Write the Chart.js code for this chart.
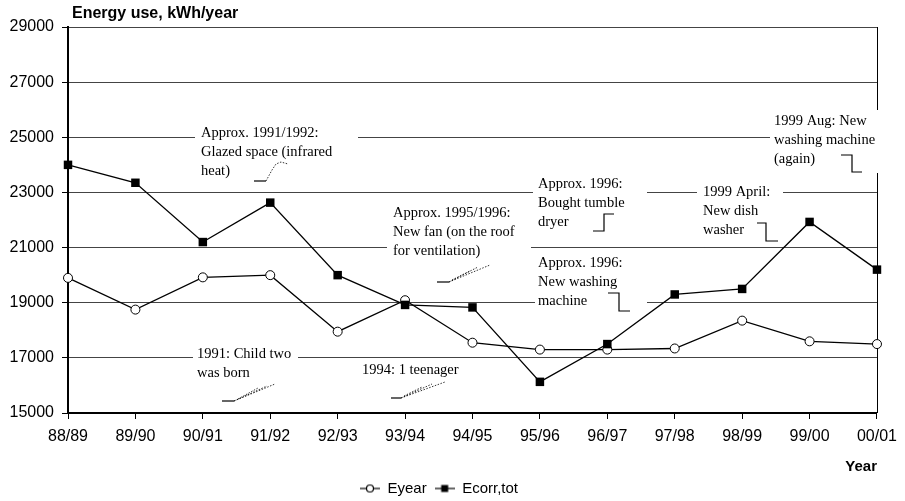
<!DOCTYPE html>
<html>
<head>
<meta charset="utf-8">
<script src="https://cdn.jsdelivr.net/npm/chart.js@4.4.1/dist/chart.umd.min.js"></script>
<style>
  html, body { margin: 0; padding: 0; background: #fff; }
</style>
</head>
<body>
<canvas id="energy-chart" width="905" height="501"></canvas>
<script>
var years = ['88/89', '89/90', '90/91', '91/92', '92/93', '93/94', '94/95', '95/96', '96/97', '97/98', '98/99', '99/00', '00/01'];
var eYear = [19900, 18750, 19920, 20000, 17950, 19090, 17550, 17300, 17300, 17340, 18350, 17600, 17500];
var eCorrTot = [24000, 23350, 21200, 22630, 20000, 18920, 18830, 16130, 17500, 19300, 19500, 21930, 20200];
var yMin = 15000;
var yMax = 29000;
var yStep = 2000;

// text notes drawn over the plot (pixel layout, not data)
var notes = [
  { lines: ['Approx. 1991/1992:', 'Glazed space (infrared', 'heat)'], x: 201, y: 133, box: [195, 124, 358, 184],
    solid: [[[254, 181], [266, 181]]], dotted: [[[266, 181], [272, 170], [276, 164], [281, 162], [288, 164]]] },
  { lines: ['1991: Child two', 'was born'], x: 197, y: 354, box: [193, 345, 298, 382],
    solid: [[[222, 401], [234, 401]]], dotted: [[[234, 401], [275, 384]], [[234, 401], [267, 386]], [[238, 399], [258, 388]]] },
  { lines: ['1994: 1 teenager'], x: 362, y: 370, box: [358, 362, 460, 379],
    solid: [[[391, 398], [401, 398]]], dotted: [[[401, 398], [445, 382]], [[401, 398], [432, 384]], [[404, 396], [422, 387]]] },
  { lines: ['Approx. 1995/1996:', 'New fan (on the roof', 'for ventilation)'], x: 393, y: 213, box: [387, 203, 531, 262],
    solid: [[[437, 282], [449, 282]]], dotted: [[[449, 282], [490, 265]], [[449, 282], [478, 267]], [[452, 280], [470, 271]]] },
  { lines: ['Approx. 1996:', 'Bought tumble', 'dryer'], x: 538, y: 184, box: [533, 175, 647, 230],
    solid: [[[593, 231], [604, 231], [604, 214], [614, 214]]], dotted: [] },
  { lines: ['Approx. 1996:', 'New washing', 'machine'], x: 538, y: 263, box: [535, 254, 647, 309],
    solid: [[[608, 293], [619, 293], [619, 311], [630, 311]]], dotted: [] },
  { lines: ['1999 April:', 'New dish', 'washer'], x: 703, y: 192, box: [697, 183, 783, 238],
    solid: [[[757, 223], [766, 223], [766, 241], [778, 241]]], dotted: [] },
  { lines: ['1999 Aug: New', 'washing machine', '(again)'], x: 774, y: 121, box: [770, 110, 892, 173],
    solid: [[[841, 155], [852, 155], [852, 172], [862, 172]]], dotted: [] }
];

function drawPath(ctx, pts) {
  ctx.beginPath();
  ctx.moveTo(pts[0][0], pts[0][1]);
  for (var i = 1; i < pts.length; i++) {
    ctx.lineTo(pts[i][0], pts[i][1]);
  }
  ctx.stroke();
}

function legendIcon(square) {
  var c = document.createElement('canvas');
  c.width = 20;
  c.height = 10;
  var g = c.getContext('2d');
  g.strokeStyle = '#000';
  g.lineWidth = 1.2;
  g.beginPath();
  g.moveTo(0, 5);
  g.lineTo(20, 5);
  g.stroke();
  if (square) {
    g.fillStyle = '#000';
    g.fillRect(6.5, 1.5, 7, 7);
  } else {
    g.fillStyle = '#fff';
    g.beginPath();
    g.arc(10, 5, 3.5, 0, Math.PI * 2);
    g.fill();
    g.stroke();
  }
  return c;
}

var notesPlugin = {
  id: 'notes',
  beforeDatasetsDraw: function(chart) {
    var ctx = chart.ctx;
    var area = chart.chartArea;
    ctx.save();
    ctx.strokeStyle = '#000';
    ctx.lineWidth = 1;
    ctx.beginPath();
    ctx.moveTo(Math.round(area.right) + 0.5, area.top);
    ctx.lineTo(Math.round(area.right) + 0.5, area.bottom);
    ctx.stroke();

    notes.forEach(function(n) {
      ctx.fillStyle = '#fff';
      ctx.fillRect(n.box[0], n.box[1], n.box[2] - n.box[0], n.box[3] - n.box[1]);
      ctx.fillStyle = '#000';
      ctx.font = '14.5px "Liberation Serif"';
      ctx.textBaseline = 'middle';
      ctx.textAlign = 'left';
      n.lines.forEach(function(t, i) {
        ctx.fillText(t, n.x, n.y + i * 19);
      });
      ctx.strokeStyle = '#000';
      ctx.lineWidth = 1.2;
      ctx.setLineDash([]);
      n.solid.forEach(function(p) { drawPath(ctx, p); });
      ctx.lineWidth = 0.8;
      ctx.setLineDash([1.5, 1.5]);
      n.dotted.forEach(function(p) { drawPath(ctx, p); });
      ctx.setLineDash([]);
    });
    ctx.restore();
  },
  afterDraw: function(chart) {
    var ctx = chart.ctx;
    ctx.save();
    ctx.fillStyle = '#000';
    ctx.font = 'bold 16px "Liberation Sans"';
    ctx.textBaseline = 'middle';
    ctx.textAlign = 'left';
    ctx.fillText('Energy use, kWh/year', chart.chartArea.left + 4, 14);
    ctx.restore();
  }
};

var elem = document.getElementById('energy-chart');

var energyChart = new Chart(elem, {
  type: 'line',
  data: {
    labels: years,
    datasets: [{
      label: 'Eyear',
      data: eYear,
      borderColor: '#000',
      borderWidth: 1.3,
      pointStyle: 'circle',
      pointRadius: 4.5,
      pointBackgroundColor: '#fff',
      pointBorderColor: '#000',
      pointBorderWidth: 1,
      tension: 0,
      clip: false,
      order: 2
    }, {
      label: 'Ecorr,tot',
      data: eCorrTot,
      borderColor: '#000',
      borderWidth: 1.3,
      pointStyle: 'rect',
      pointRadius: 6,
      pointBackgroundColor: '#000',
      pointBorderColor: '#000',
      pointBorderWidth: 0,
      tension: 0,
      clip: false,
      order: 1
    }]
  },
  options: {
    responsive: false,
    animation: false,
    layout: {
      padding: { left: 0, right: 27, top: 27, bottom: -5 }
    },
    plugins: {
      title: { display: false },
      tooltip: { enabled: false },
      legend: {
        position: 'bottom',
        labels: {
          usePointStyle: true,
          pointStyleWidth: 20,
          boxHeight: 10,
          padding: 8,
          color: '#000',
          font: { family: 'Liberation Sans', size: 15 },
          sort: function(a, b) { return a.datasetIndex - b.datasetIndex; },
          generateLabels: function(chart) {
            return chart.data.datasets.map(function(ds, i) {
              return {
                text: ds.label,
                pointStyle: legendIcon(i === 1),
                fillStyle: '#000',
                strokeStyle: '#000',
                lineWidth: 0,
                hidden: false,
                datasetIndex: i
              };
            });
          }
        }
      }
    },
    scales: {
      x: {
        offset: false,
        afterFit: function(scale) { scale.height = 60; },
        grid: {
          drawOnChartArea: false,
          drawTicks: true,
          tickLength: 6,
          tickColor: '#000'
        },
        border: { display: true, color: '#000', width: 2 },
        ticks: {
          color: '#000',
          padding: 8,
          maxRotation: 0,
          autoSkip: false,
          font: { family: 'Liberation Sans', size: 16 }
        },
        title: {
          display: true,
          text: 'Year',
          align: 'end',
          color: '#000',
          padding: { top: 0, bottom: -3 },
          font: { family: 'Liberation Sans', size: 15, weight: 'bold' }
        }
      },
      y: {
        min: yMin,
        max: yMax,
        afterFit: function(scale) { scale.width = 68; },
        grid: {
          color: '#444',
          lineWidth: 1,
          drawTicks: true,
          tickLength: 6,
          tickColor: '#000'
        },
        border: { display: true, color: '#000', width: 2 },
        ticks: {
          stepSize: yStep,
          color: '#000',
          padding: 8,
          font: { family: 'Liberation Sans', size: 16 },
          callback: function(value) {
            return String(value);
          }
        }
      }
    }
  },
  plugins: [notesPlugin]
});
</script>
</body>
</html>
